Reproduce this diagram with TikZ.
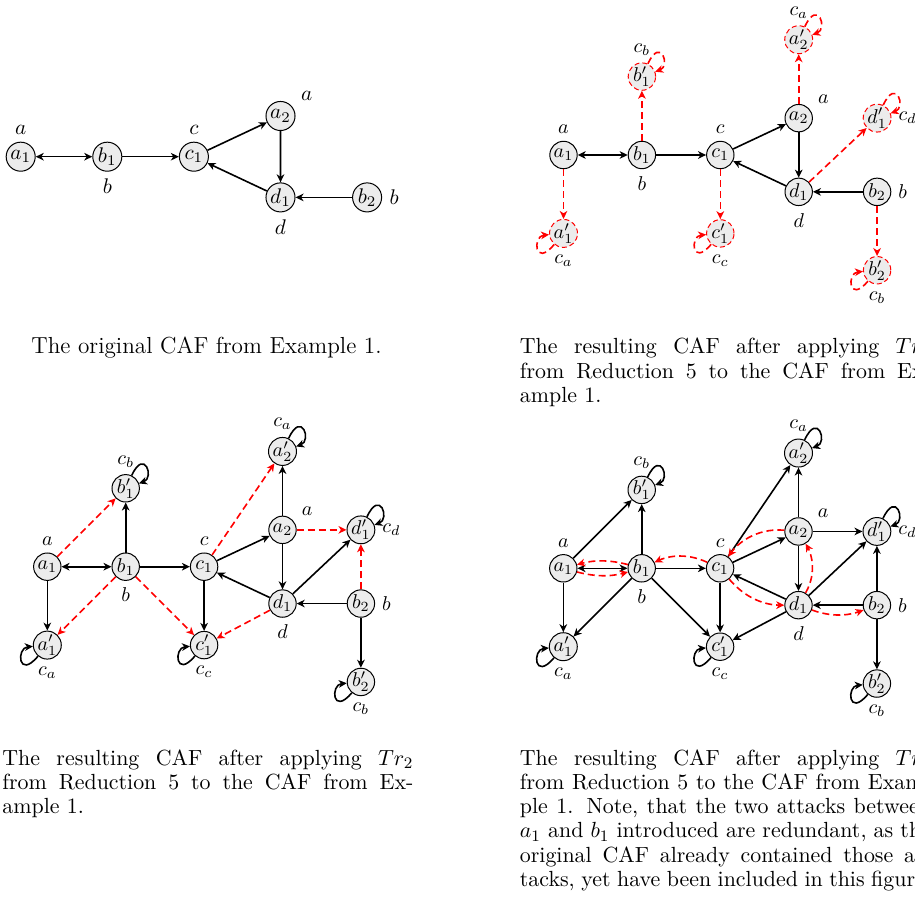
\documentclass[tikz,border=0pt]{standalone}
\usetikzlibrary{arrows.meta}

\tikzset{
  arg/.style={circle, draw, line width=0.5pt, fill=gray!15, minimum size=13.7pt,
    inner sep=0pt, font=\fontsize{10}{12}\selectfont},
  argNovo/.style={arg, draw=red, dash pattern=on 2.5pt off 1.5pt},
  ataque/.style={->, line width=0.8pt},
  ataqueNovo/.style={ataque, red, dash pattern=on 3.5pt off 2pt},
  lacoCima/.style={out=65, in=20, looseness=5.5},
  lacoBaixo/.style={out=230, in=185, looseness=5.5},
  legenda/.style={inner sep=0pt, font=\fontsize{10.95}{12.15}\selectfont},
  every label/.style={font=\fontsize{10}{12}\selectfont},
}

\begin{document}
\begin{tikzpicture}[x=0.5pt, y=-0.5pt, >={Stealth[length=4pt, width=3.8pt, inset=1.2pt]}]

    \useasboundingbox (0,0) rectangle (915,898);
    \clip (0,0) rectangle (915,898);

    % CAF original
    \begin{scope}[shift={(20.7,156.7)}, x=43.3pt, y=43.3pt, name prefix=o-,
                  every node/.append style={scale=1.06}]
        \node[arg, label={$a$}] (a1) at (0,0) {$a_1$};
        \node[arg, label=below:{$b$}] (b1) at (1,0) {$b_1$};
        \node[arg, label={$c$}] (c1) at (2,0) {$c_1$};
        \node[arg, label=30:{$a$}] (a2) at (3,0.47) {$a_2$};
        \node[arg, label=below:{$d$}] (d1) at (3,-0.47) {$d_1$};
        \node[arg, label=right:{$b$}] (b2) at (4,-0.47) {$b_2$};

        \draw[ataque, <->] (a1) -- (b1);
        \draw[ataque] (b1) -- (c1);
        \draw[ataque] (c1) -- (a2);
        \draw[ataque] (a2) -- (d1);
        \draw[ataque] (d1) -- (c1);
        \draw[ataque] (b2) -- (d1);
    \end{scope}

    % depois de Tr1
    \begin{scope}[shift={(563.5,155)}, x=39.2pt, y=39.2pt, name prefix=u-]
        \node[arg, label={$a$}] (a1) at (0,0) {$a_1$};
        \node[arg, label=below:{$b$}] (b1) at (1,0) {$b_1$};
        \node[arg, label={$c$}] (c1) at (2,0) {$c_1$};
        \node[arg, label=30:{$a$}] (a2) at (3,0.47) {$a_2$};
        \node[arg, label=below:{$d$}] (d1) at (3,-0.47) {$d_1$};
        \node[arg, label=right:{$b$}] (b2) at (4,-0.47) {$b_2$};

        \node[argNovo, label=below:{$c_a$}] (a1l) at (0,-1) {$a_1'$};
        \node[argNovo, label={$c_b$}] (b1l) at (1,1) {$b_1'$};
        \node[argNovo, label=below:{$c_c$}] (c1l) at (2,-1) {$c_1'$};
        \node[argNovo, label={$c_a$}] (a2l) at (3,1.47) {$a_2'$};
        \node[argNovo, label=right:{$c_d$}] (d1l) at (4,0.47) {$d_1'$};
        \node[argNovo, label=below:{$c_b$}] (b2l) at (4,-1.47) {$b_2'$};

        \draw[ataque, <->] (a1) -- (b1);
        \draw[ataque] (b1) -- (c1);
        \draw[ataque] (c1) -- (a2);
        \draw[ataque] (a2) -- (d1);
        \draw[ataque] (d1) -- (c1);
        \draw[ataque] (b2) -- (d1);

        \draw[ataqueNovo] (a1) -- (a1l);
        \draw[ataqueNovo] (b1) -- (b1l);
        \draw[ataqueNovo] (c1) -- (c1l);
        \draw[ataqueNovo] (a2) -- (a2l);
        \draw[ataqueNovo] (d1) -- (d1l);
        \draw[ataqueNovo] (b2) -- (b2l);

        \draw[ataqueNovo] (a1l) to[lacoBaixo] (a1l);
        \draw[ataqueNovo] (b1l) to[lacoCima] (b1l);
        \draw[ataqueNovo] (c1l) to[lacoBaixo] (c1l);
        \draw[ataqueNovo] (a2l) to[lacoCima] (a2l);
        \draw[ataqueNovo] (d1l) to[lacoCima] (d1l);
        \draw[ataqueNovo] (b2l) to[lacoBaixo] (b2l);
    \end{scope}

    % depois de Tr2
    \begin{scope}[shift={(47.3,566.7)}, x=39.2pt, y=39.2pt, name prefix=d-]
        \node[arg, label={$a$}] (a1) at (0,0) {$a_1$};
        \node[arg, label=below:{$b$}] (b1) at (1,0) {$b_1$};
        \node[arg, label={$c$}] (c1) at (2,0) {$c_1$};
        \node[arg, label=30:{$a$}] (a2) at (3,0.47) {$a_2$};
        \node[arg, label=below:{$d$}] (d1) at (3,-0.47) {$d_1$};
        \node[arg, label=right:{$b$}] (b2) at (4,-0.47) {$b_2$};

        \node[arg, label=below:{$c_a$}] (a1l) at (0,-1) {$a_1'$};
        \node[arg, label={$c_b$}] (b1l) at (1,1) {$b_1'$};
        \node[arg, label=below:{$c_c$}] (c1l) at (2,-1) {$c_1'$};
        \node[arg, label={$c_a$}] (a2l) at (3,1.47) {$a_2'$};
        \node[arg, label=right:{$c_d$}] (d1l) at (4,0.47) {$d_1'$};
        \node[arg, label=below:{$c_b$}] (b2l) at (4,-1.47) {$b_2'$};

        \draw[ataque, <->] (a1) -- (b1);
        \draw[ataque] (b1) -- (c1);
        \draw[ataque] (c1) -- (a2);
        \draw[ataque] (a2) -- (d1);
        \draw[ataque] (d1) -- (c1);
        \draw[ataque] (b2) -- (d1);

        \draw[ataque] (a1) -- (a1l);
        \draw[ataque] (b1) -- (b1l);
        \draw[ataque] (c1) -- (c1l);
        \draw[ataque] (a2) -- (a2l);
        \draw[ataque] (d1) -- (d1l);
        \draw[ataque] (b2) -- (b2l);

        \draw[ataque] (a1l) to[lacoBaixo] (a1l);
        \draw[ataque] (b1l) to[lacoCima] (b1l);
        \draw[ataque] (c1l) to[lacoBaixo] (c1l);
        \draw[ataque] (a2l) to[lacoCima] (a2l);
        \draw[ataque] (d1l) to[lacoCima] (d1l);
        \draw[ataque] (b2l) to[lacoBaixo] (b2l);

        % ataques vindos de Tr2
        \draw[ataqueNovo] (a1) -- (b1l);
        \draw[ataqueNovo] (b1) -- (a1l);
        \draw[ataqueNovo] (b1) -- (c1l);
        \draw[ataqueNovo] (c1) -- (a2l);
        \draw[ataqueNovo] (a2) -- (d1l);
        \draw[ataqueNovo] (d1) -- (c1l);
        \draw[ataqueNovo] (b2) -- (d1l);
    \end{scope}

    % depois de Tr3
    \begin{scope}[shift={(563.3,568.3)}, x=39.2pt, y=39.2pt, name prefix=t-]
        \node[arg, label={$a$}] (a1) at (0,0) {$a_1$};
        \node[arg, label=below:{$b$}] (b1) at (1,0) {$b_1$};
        \node[arg, label={$c$}] (c1) at (2,0) {$c_1$};
        \node[arg, label=30:{$a$}] (a2) at (3,0.47) {$a_2$};
        \node[arg, label=below:{$d$}] (d1) at (3,-0.47) {$d_1$};
        \node[arg, label=right:{$b$}] (b2) at (4,-0.47) {$b_2$};

        \node[arg, label=below:{$c_a$}] (a1l) at (0,-1) {$a_1'$};
        \node[arg, label={$c_b$}] (b1l) at (1,1) {$b_1'$};
        \node[arg, label=below:{$c_c$}] (c1l) at (2,-1) {$c_1'$};
        \node[arg, label={$c_a$}] (a2l) at (3,1.47) {$a_2'$};
        \node[arg, label=right:{$c_d$}] (d1l) at (4,0.47) {$d_1'$};
        \node[arg, label=below:{$c_b$}] (b2l) at (4,-1.47) {$b_2'$};

        \draw[ataque, <->] (a1) -- (b1);
        \draw[ataque] (b1) -- (c1);
        \draw[ataque] (c1) -- (a2);
        \draw[ataque] (a2) -- (d1);
        \draw[ataque] (d1) -- (c1);
        \draw[ataque] (b2) -- (d1);

        \draw[ataque] (a1) -- (a1l);
        \draw[ataque] (b1) -- (b1l);
        \draw[ataque] (c1) -- (c1l);
        \draw[ataque] (a2) -- (a2l);
        \draw[ataque] (d1) -- (d1l);
        \draw[ataque] (b2) -- (b2l);

        \draw[ataque] (a1l) to[lacoBaixo] (a1l);
        \draw[ataque] (b1l) to[lacoCima] (b1l);
        \draw[ataque] (c1l) to[lacoBaixo] (c1l);
        \draw[ataque] (a2l) to[lacoCima] (a2l);
        \draw[ataque] (d1l) to[lacoCima] (d1l);
        \draw[ataque] (b2l) to[lacoBaixo] (b2l);

        \draw[ataque] (a1) -- (b1l);
        \draw[ataque] (b1) -- (a1l);
        \draw[ataque] (b1) -- (c1l);
        \draw[ataque] (c1) -- (a2l);
        \draw[ataque] (a2) -- (d1l);
        \draw[ataque] (d1) -- (c1l);
        \draw[ataque] (b2) -- (d1l);

        % ataques invertidos de Tr3 (angulos absolutos)
        \draw[ataqueNovo] (a1) to[out=-15, in=195] (b1);
        \draw[ataqueNovo] (b1) to[out=165, in=15] (a1);
        \draw[ataqueNovo] (c1) to[out=155, in=25] (b1);
        \draw[ataqueNovo] (a2) to[out=175, in=55] (c1);
        \draw[ataqueNovo] (c1) to[out=-50, in=180] (d1);
        \draw[ataqueNovo] (d1) to[out=60, in=300] (a2);
        \draw[ataqueNovo] (d1) to[out=-20, in=200] (b2);
    \end{scope}

    % legendas
    \node[legenda, anchor=base, font=\fontsize{11.6}{13}\selectfont] (leg1) at (206.5,354)
        {The original CAF from Example 1.};
    \node[legenda, anchor=base west, text width=205.5pt, align=justify] (leg2) at (519.5,354)
        {The resulting CAF after applying $Tr_1$\linebreak
         from Reduction 5 to the CAF from Ex-\linebreak
         ample 1.};
    \node[legenda, anchor=base west, text width=205.5pt, align=justify] (leg3) at (2,765)
        {The resulting CAF after applying $Tr_2$\linebreak
         from Reduction 5 to the CAF from Ex-\linebreak
         ample 1.};
    \node[legenda, anchor=base west, text width=205.5pt, align=justify] (leg4) at (519.5,765)
        {The resulting CAF after applying $Tr_3$\linebreak
         from Reduction 5 to the CAF from Exam-\linebreak
         ple 1. Note, that the two attacks between\linebreak
         $a_1$ and $b_1$ introduced are redundant, as the\linebreak
         original CAF already contained those at-\linebreak
         tacks, yet have been included in this figure.};

\end{tikzpicture}
\end{document}
